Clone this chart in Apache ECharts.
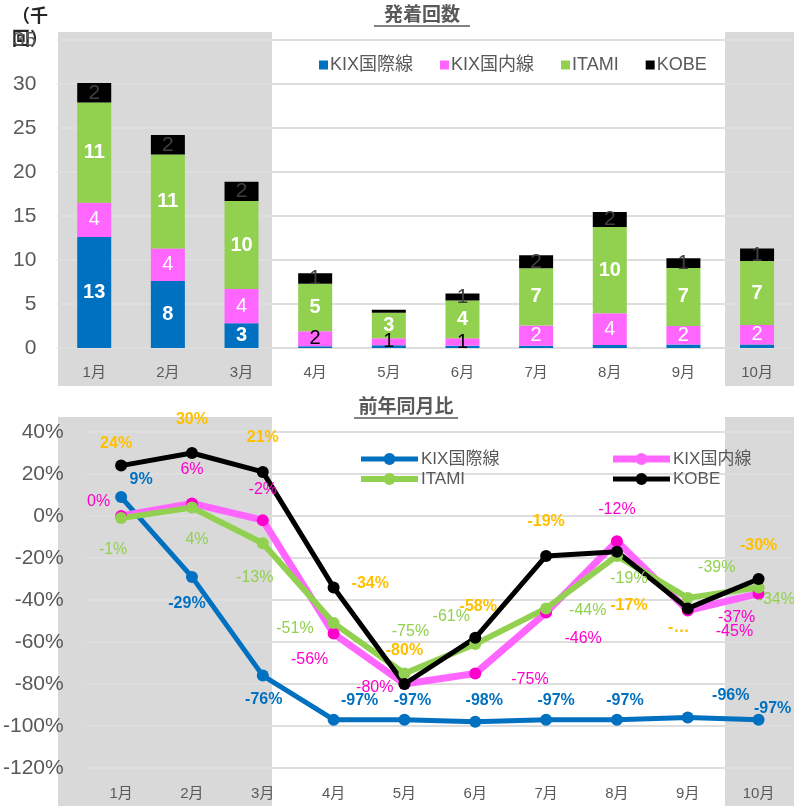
<!DOCTYPE html>
<html><head><meta charset="utf-8">
<script src="https://cdn.jsdelivr.net/npm/echarts@6/dist/echarts.min.js"></script>
<style>html,body{margin:0;padding:0;background:#fff}#c{width:794px;height:806px}</style>
</head><body><div id="c"></div>
<script>
// ---- data ----
const months = ['1月','2月','3月','4月','5月','6月','7月','8月','9月','10月'];
const seriesNames = ['KIX国際線','KIX国内線','ITAMI','KOBE'];
// 発着回数 (千回)
const kixIntl = [12.6, 7.6, 2.8, 0.2, 0.3, 0.25, 0.25, 0.35, 0.4, 0.4];
const kixDom  = [3.9, 3.7, 3.9, 1.7, 0.8, 0.85, 2.3, 3.6, 2.1, 2.2];
const itami   = [11.4, 10.7, 10.0, 5.4, 2.9, 4.3, 6.5, 9.8, 6.6, 7.3];
const kobe    = [2.2, 2.2, 2.2, 1.2, 0.35, 0.8, 1.5, 1.7, 1.1, 1.4];
// 前年同月比 (%)
const yoyKixIntl = [9, -29, -76, -97, -97, -98, -97, -97, -96, -97];
const yoyKixDom  = [0, 6, -2, -56, -80, -75, -46, -12, -45, -37];
const yoyItami   = [-1, 4, -13, -51, -75, -61, -44, -19, -39, -34];
const yoyKobe    = [24, 30, 21, -34, -80, -58, -19, -17, -44, -30];
const yAxis1Ticks = [0, 35, 5];
const yAxis2Ticks = [-120, 40, 20];

// ---- styling ----
const FONT = '"Liberation Sans", Arial, "Noto Sans CJK JP", sans-serif';
const GREYTXT = '#595959';
const colors = {blue:'#0070c0', pink:'#ff66ff', pinkMk:'#ff00cc', green:'#92d050', black:'#000000', orange:'#ffc000'};

// label placement per point: [position, dx, dy, textOverride]
const lpBlue = [['top',20,1],['bottom',-5,8],['bottom',1,5],['top',26,0],['top',8,0],['top',9,-2],['top',10,0],['top',8,0],['top',43,-3],['top',14,8]];
const lpPink = [['left',0,-14],['top',0,-15],['top',0,-12],['bottom',-24,7],['left',0,4],['right',25,6],['bottom',37,7],['top',0,-13],['right',17,21],['bottom',-22,5]];
const lpGreen = [['bottom',-8,12],['bottom',5,13],['bottom',-8,15],['left',-9,5],['top',6,-23],['top',-24,-9],['right',12,2],['bottom',12,4],['top',29,-11],['right',-12,12]];
const lpKobe = [['top',-5,-3],['top',0,-14],['top',0,-15],['right',7,-4],['top',0,-14],['top',3,-12],['top',0,-15],['bottom',12,35],['bottom',-9,0,'-…'],['top',0,-14]];

function lineData(vals, lp){
  return vals.map((v,i)=>{
    const p = lp[i];
    const lab = {position:p[0], offset:[p[1],p[2]]};
    if (p[3]) lab.formatter = p[3];
    return {value:v, label:lab};
  });
}

const chart = echarts.init(document.getElementById('c'), null, {renderer:'canvas'});

const barLabel = (color, bold, size) => ({
  show:true, position:'inside', color:color, fontFamily:FONT, fontSize:size,
  fontWeight: bold ? 'bold' : 'normal',
  formatter: p => { const r = Math.round(p.value); return r >= 1 ? String(r) : ''; }
});

const pinkBarData = kixDom.map((v,i)=>({value:v, label:{color:(i>=3 && i<=5)?'#000':'#fff'}}));

const lineSeries = (name, vals, lp, lineColor, mkColor, width, labColor, bold) => ({
  name:name, type:'line', xAxisIndex:1, yAxisIndex:1,
  data: lineData(vals, lp),
  symbol:'circle', symbolSize:12,
  lineStyle:{color:lineColor, width:width},
  itemStyle:{color:mkColor},
  label:{show:true, color:labColor, fontSize:16, fontFamily:FONT, fontWeight: bold?'bold':'normal',
         formatter: p => p.value + '%'},
  emphasis:{disabled:true}, animation:false
});

const lineIcon = (t) => 'path://M0,' + (7 - t/2) + 'L57,' + (7 - t/2) + 'L57,' + (7 + t/2) + 'L0,' + (7 + t/2) +
  'Z M22.5,7A6,6,0,1,1,34.5,7A6,6,0,1,1,22.5,7Z';

const option = {
  animation:false,
  textStyle:{fontFamily:FONT},
  graphic:[
    {type:'rect', z:-1, silent:true, shape:{x:58, y:32, width:214, height:354}, style:{fill:'#d9d9d9'}},
    {type:'rect', z:-1, silent:true, shape:{x:725, y:32, width:69, height:354}, style:{fill:'#d9d9d9'}},
    {type:'rect', z:-1, silent:true, shape:{x:58, y:417, width:214, height:389}, style:{fill:'#d9d9d9'}},
    {type:'rect', z:-1, silent:true, shape:{x:725, y:417, width:69, height:389}, style:{fill:'#d9d9d9'}},
    {type:'text', style:{text:'発着回数', x:422, y:14, align:'center', verticalAlign:'middle', fill:GREYTXT, font:'bold 19px "Noto Sans CJK JP", sans-serif'}},
    {type:'line', shape:{x1:374, y1:26, x2:470, y2:26}, style:{stroke:GREYTXT, lineWidth:1.5}},
    {type:'text', style:{text:'前年同月比', x:406, y:406, align:'center', verticalAlign:'middle', fill:GREYTXT, font:'bold 19px "Noto Sans CJK JP", sans-serif'}},
    {type:'line', shape:{x1:354, y1:418, x2:458, y2:418}, style:{stroke:GREYTXT, lineWidth:1.5}},
    {type:'text', style:{text:'（千\n回）', x:12, y:4, fill:'#262626', lineHeight:23, font:'bold 18px "Noto Sans CJK JP", sans-serif'}}
  ],
  legend:[
    {data:seriesNames.map(n=>({name:n})), left:314, top:51, itemWidth:9, itemHeight:9, itemGap:27, icon:'rect',
     textStyle:{color:GREYTXT, fontSize:18, fontFamily:FONT, padding:[0,0,0,-3]}, selectedMode:false},
    {data:[{name:'KIX国際線', icon:lineIcon(5)},{name:'ITAMI', icon:lineIcon(6)}], orient:'vertical', left:356, top:445, itemWidth:57, itemHeight:14, itemGap:2,
     textStyle:{color:GREYTXT, fontSize:17, fontFamily:FONT, lineHeight:18, padding:[0,0,0,-2]}, selectedMode:false},
    {data:[{name:'KIX国内線', icon:lineIcon(7)},{name:'KOBE', icon:lineIcon(5)}], orient:'vertical', left:608, top:445, itemWidth:57, itemHeight:14, itemGap:2,
     textStyle:{color:GREYTXT, fontSize:17, fontFamily:FONT, lineHeight:18, padding:[0,0,0,-2]}, selectedMode:false}
  ],
  grid:[
    {left:57.4, top:40, width:736.5, height:308, containLabel:false},
    {left:84, top:432, width:722, height:336, containLabel:false}
  ],
  xAxis:[
    {type:'category', gridIndex:0, data:months, axisLine:{show:false}, axisTick:{show:false},
     axisLabel:{color:GREYTXT, fontSize:15, margin:17, fontFamily:FONT}},
    {type:'category', gridIndex:1, data:months, axisLine:{show:false}, axisTick:{show:false},
     axisLabel:{color:GREYTXT, fontSize:15, margin:18, fontFamily:FONT}}
  ],
  yAxis:[
    {type:'value', gridIndex:0, min:yAxis1Ticks[0], max:yAxis1Ticks[1], interval:yAxis1Ticks[2],
     axisLine:{show:false}, axisTick:{show:false},
     splitLine:{lineStyle:{color:'#dedede', width:2}},
     axisLabel:{color:GREYTXT, fontSize:21, margin:21, fontFamily:FONT}},
    {type:'value', gridIndex:1, min:yAxis2Ticks[0], max:yAxis2Ticks[1], interval:yAxis2Ticks[2],
     axisLine:{show:false}, axisTick:{show:false},
     splitLine:{lineStyle:{color:'#dedede', width:2}},
     axisLabel:{color:GREYTXT, fontSize:21, margin:22, fontFamily:FONT, formatter:'{value}%'}}
  ],
  series:[
    {name:'KIX国際線', type:'bar', stack:'a', xAxisIndex:0, yAxisIndex:0, barWidth:34, data:kixIntl,
     itemStyle:{color:colors.blue}, label:barLabel('#fff', true, 20), emphasis:{disabled:true}},
    {name:'KIX国内線', type:'bar', stack:'a', xAxisIndex:0, yAxisIndex:0, barWidth:34, data:pinkBarData,
     itemStyle:{color:colors.pink}, label:barLabel('#fff', false, 20), emphasis:{disabled:true}},
    {name:'ITAMI', type:'bar', stack:'a', xAxisIndex:0, yAxisIndex:0, barWidth:34, data:itami,
     itemStyle:{color:colors.green}, label:barLabel('#fff', true, 20), emphasis:{disabled:true}},
    {name:'KOBE', type:'bar', stack:'a', xAxisIndex:0, yAxisIndex:0, barWidth:34, data:kobe,
     itemStyle:{color:colors.black}, label:barLabel('#404040', false, 21), emphasis:{disabled:true}},
    lineSeries('KIX国際線', yoyKixIntl, lpBlue, colors.blue, colors.blue, 5, colors.blue, true),
    lineSeries('KIX国内線', yoyKixDom, lpPink, colors.pink, colors.pinkMk, 7, colors.pinkMk, false),
    lineSeries('ITAMI', yoyItami, lpGreen, colors.green, colors.green, 6, colors.green, false),
    lineSeries('KOBE', yoyKobe, lpKobe, colors.black, colors.black, 5, colors.orange, true)
  ]
};
chart.setOption(option);
</script>
</body></html>
